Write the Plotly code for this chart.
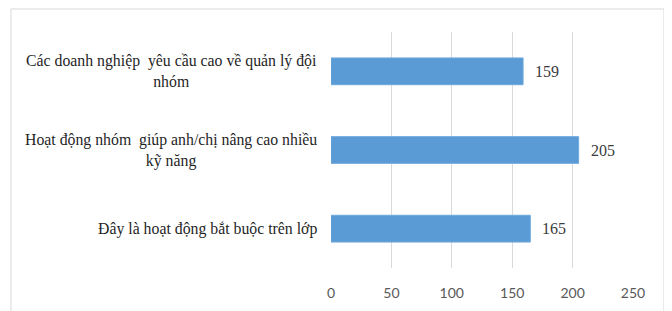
import plotly.graph_objects as go

categories = [
    "Các doanh nghiệp  yêu cầu cao về quản lý đội<br>nhóm",
    "Hoạt động nhóm  giúp anh/chị nâng cao nhiều<br>kỹ năng",
    "Đây là hoạt động bắt buộc trên lớp",
]
values = [159, 205, 165]
x_ticks = [0, 50, 100, 150, 200, 250]

SERIF = "Liberation Serif"

fig = go.Figure()
fig.add_trace(go.Bar(
    x=values, y=categories, orientation="h",
    marker=dict(color="#5B9BD5", line=dict(color="#6FA8DC", width=1)),
    hoverinfo="skip",
))

for c, v in zip(categories, values):
    fig.add_annotation(x=v, y=c, xref="x", yref="y", text=str(v), showarrow=False,
                       xanchor="left", xshift=10,
                       font=dict(family=SERIF, size=16, color="#3a3a3a"))
    fig.add_annotation(x=-0.04, y=c, xref="paper", yref="y", text=c, showarrow=False,
                       xanchor="right", align="center",
                       font=dict(family=SERIF, size=15.8, color="#1f1f1f"))

# chart frame (page has an 8px body margin, so figure coords are offset)
fig.add_shape(type="line", xref="paper", yref="paper", x0=-1.0596, x1=-1.0596, y0=-0.3, y1=1.0975,
              line=dict(color="#D9D9D9", width=1))
fig.add_shape(type="line", xref="paper", yref="paper", x0=-1.0596, x1=1.1026, y0=1.0975, y1=1.0975,
              line=dict(color="#D9D9D9", width=1))
fig.add_shape(type="line", xref="paper", yref="paper", x0=1.1026, x1=1.1026, y0=-0.3, y1=1.0975,
              line=dict(color="#D9D9D9", width=1))

fig.update_layout(
    width=672, height=311,
    margin=dict(l=323, r=47, t=24, b=51, autoexpand=False),
    paper_bgcolor="white", plot_bgcolor="white",
    bargap=0.66,
    showlegend=False,
    xaxis=dict(range=[0, 250], tickvals=x_ticks, showgrid=True, gridcolor="#D9D9D9",
               gridwidth=1, zeroline=False, showline=False,
               ticks="outside", ticklen=0, ticklabelstandoff=12,
               tickfont=dict(family="Lato", size=14, color="#595959")),
    yaxis=dict(autorange="reversed", showticklabels=False, showgrid=False,
               zeroline=False, showline=False),
)

fig.write_html("out.html")
